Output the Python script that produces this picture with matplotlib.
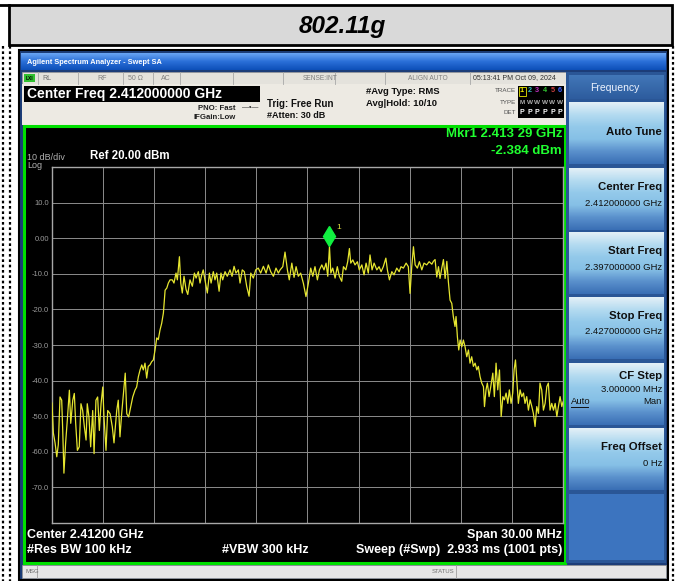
import numpy as np
import matplotlib
matplotlib.use('Agg')
import matplotlib.pyplot as plt
from matplotlib.patches import Rectangle
from matplotlib.colors import LinearSegmentedColormap
import matplotlib.transforms as mtransforms

plt.rcParams['font.family'] = ['Liberation Sans', 'DejaVu Sans']

# ---------------- data ----------------
start_mhz = 2397.0
stop_mhz = 2427.0
freq_offset_mhz = [
    0.00, 0.08, 0.18, 0.28, 0.37, 0.47, 0.57, 0.63, 0.70, 0.80, 0.90, 1.02, 1.10, 1.22, 1.31,
    1.39, 1.49, 1.60, 1.70, 1.80, 1.90, 2.00, 2.07, 2.17, 2.27, 2.39, 2.47, 2.58, 2.68, 2.78,
    2.88, 2.98, 3.05, 3.17, 3.27, 3.41, 3.54, 3.64, 3.80, 3.89, 3.99, 4.09, 4.23, 4.30, 4.39,
    4.50, 4.62, 4.74, 4.87, 4.97, 5.07, 5.17, 5.27, 5.36, 5.46, 5.56, 5.65, 5.75, 5.85, 5.95,
    6.05, 6.15, 6.24, 6.34, 6.44, 6.54, 6.64, 6.74, 6.83, 6.93, 7.06, 7.16, 7.28, 7.36, 7.48,
    7.56, 7.65, 7.75, 7.87, 7.97, 8.10, 8.24, 8.36, 8.46, 8.59, 8.69, 8.79, 8.88, 8.98, 9.12,
    9.24, 9.34, 9.47, 9.57, 9.67, 9.81, 9.92, 10.02, 10.16, 10.29, 10.45, 10.57, 10.69, 10.80,
    10.94, 11.04, 11.17, 11.29, 11.43, 11.57, 11.67, 11.82, 11.96, 12.11, 12.25, 12.41, 12.57,
    12.70, 12.84, 13.00, 13.15, 13.29, 13.39, 13.55, 13.68, 13.82, 13.93, 14.08, 14.21, 14.33,
    14.46, 14.60, 14.76, 14.91, 15.05, 15.19, 15.31, 15.44, 15.58, 15.70, 15.84, 15.97, 16.09,
    16.19, 16.29, 16.37, 16.48, 16.62, 16.75, 16.87, 17.01, 17.11, 17.25, 17.36, 17.46, 17.54,
    17.66, 17.79, 17.93, 18.04, 18.19, 18.32, 18.44, 18.57, 18.67, 18.79, 18.91, 19.07, 19.20,
    19.32, 19.45, 19.60, 19.69, 19.81, 19.95, 20.08, 20.24, 20.38, 20.49, 20.63, 20.79, 20.92,
    21.02, 21.12, 21.22, 21.32, 21.45, 21.57, 21.71, 21.84, 22.00, 22.14, 22.30, 22.39, 22.49,
    22.59, 22.69, 22.78, 22.88, 22.98, 23.08, 23.18, 23.27, 23.37, 23.47, 23.56, 23.66, 23.72,
    23.80, 23.88, 23.96, 24.06, 24.15, 24.25, 24.35, 24.45, 24.54, 24.64, 24.74, 24.84, 24.94,
    25.03, 25.13, 25.23, 25.33, 25.39, 25.48, 25.56, 25.66, 25.76, 25.88, 25.97, 26.07, 26.17,
    26.27, 26.37, 26.47, 26.56, 26.66, 26.76, 26.85, 26.95, 27.05, 27.13, 27.21, 27.29, 27.38,
    27.48, 27.58, 27.68, 27.77, 27.87, 27.97, 28.07, 28.17, 28.26, 28.36, 28.46, 28.56, 28.65,
    28.75, 28.85, 28.95, 29.05, 29.14, 29.24, 29.34, 29.44, 29.54, 29.64, 29.73, 29.83, 29.93,
    30.00,
]
level_dbm = [
    -46.3, -54.7, -57.5, -61.4, -58.0, -44.6, -45.5, -54.0, -66.0, -57.5, -51.0, -42.7, -52.0, -45.5, -43.6,
    -52.0, -59.6, -58.6, -46.5, -48.4, -53.0, -56.7, -46.5, -50.2, -58.6, -48.4, -60.5, -45.5, -44.6, -54.0,
    -46.5, -41.8, -50.0, -59.6, -48.4, -49.3, -53.0, -57.5, -48.4, -45.5, -55.8, -49.3, -41.8, -37.9, -49.3,
    -50.2, -47.4, -44.6, -42.7, -41.8, -38.9, -37.0, -35.6, -37.0, -35.1, -39.3, -36.0, -35.6, -34.7, -34.2,
    -31.4, -28.0, -28.5, -25.8, -23.9, -21.0, -14.6, -14.0, -12.6, -11.7, -11.7, -12.6, -9.8, -11.7, -5.2,
    -12.6, -15.4, -10.7, -14.4, -15.8, -11.7, -13.5, -9.8, -11.2, -9.4, -12.6, -10.3, -8.9, -11.7, -15.4,
    -9.8, -12.6, -9.4, -11.7, -9.8, -14.9, -9.8, -11.7, -9.4, -10.7, -8.9, -10.7, -7.9, -9.8,
    -8.9, -12.6, -8.9, -9.4, -13.5, -16.3, -9.8, -11.2, -8.9, -8.4, -9.8, -7.9, -9.8,
    -7.5, -9.4, -10.7, -8.4, -9.8, -8.9, -8.0, -3.9, -8.9, -11.7, -7.0, -11.0, -8.0,
    -10.7, -9.8, -12.7, -16.4, -12.7, -8.4, -10.7, -8.0, -11.7, -8.9, -7.5, -8.9, -7.0,
    -10.7, -2.384, -9.8, -8.4, -11.2, -8.0, -10.7, -12.1, -8.0, -8.9, -6.6, -2.9, -7.0,
    -6.1, -7.5, -6.6, -8.9, -7.5, -10.3, -7.0, -9.8, -4.7, -8.9, -7.0, -8.9, -8.0,
    -9.4, -8.0, -5.6, -8.9, -11.7, -9.4, -10.3, -8.4, -9.4, -8.0, -8.4, -7.0, -8.0,
    -15.5, -8.0, -2.4, -7.5, -8.4, -6.6, -8.9, -7.0, -7.5, -6.6, -7.3, -6.5, -6.0,
    -10.9, -8.0, -11.3, -8.5, -6.0, -11.3, -6.5, -12.2, -17.4, -18.3, -22.0, -24.8, -22.0,
    -27.7, -31.4, -28.6, -30.5, -28.6, -30.5, -33.3, -31.4, -35.1, -33.3, -36.0, -35.1, -37.0,
    -36.0, -38.9, -40.7, -41.7, -47.3, -42.6, -40.7, -44.5, -41.7, -37.9, -44.5, -35.1, -42.6,
    -37.0, -50.1, -44.5, -45.4, -43.5, -46.4, -42.6, -46.4, -43.5, -37.0, -34.2, -39.8, -46.4,
    -42.6, -44.5, -43.5, -46.4, -44.5, -48.3, -45.4, -47.3, -49.2, -52.9, -47.3, -49.2, -40.7,
    -42.6, -48.3, -46.4, -41.7, -40.7, -48.3, -46.4, -48.3, -46.4, -50.1, -47.3, -44.5, -47.3,
    -46.0,
]
y_ticks = [20, 10, 0, -10, -20, -30, -40, -50, -60, -70, -80]
y_tick_labels = ['', '10.0', '0.00', '-10.0', '-20.0', '-30.0', '-40.0', '-50.0', '-60.0', '-70.0', '']
marker_freq_mhz = 2413.29
marker_level_dbm = -2.384

softkeys = [
    ('Auto Tune', ''),
    ('Center Freq', '2.412000000 GHz'),
    ('Start Freq', '2.397000000 GHz'),
    ('Stop Freq', '2.427000000 GHz'),
    ('CF Step', '3.000000 MHz'),
    ('Freq Offset', '0 Hz'),
]

# ---------------- figure ----------------
W, H = 683, 581
fig = plt.figure(figsize=(W / 100, H / 100), dpi=100)
bg = fig.add_axes([0, 0, 1, 1])
bg.axis('off')


def rect(x0, y0, x1, y1, fc, ec='none', lw=0, z=1, **kw):
    bg.add_patch(Rectangle((x0, y0), x1 - x0, y1 - y0, facecolor=fc, edgecolor=ec,
                           linewidth=lw, zorder=z, **kw))


def grad(x0, y0, x1, y1, colors, z=1):
    cmap = LinearSegmentedColormap.from_list('g', colors)
    arr = np.linspace(0, 1, 120)[:, None]
    bg.imshow(arr, extent=(x0, x1, y1, y0), cmap=cmap, aspect='auto', zorder=z,
              interpolation='bilinear')


def txt(x, y, s, size, color='black', weight='normal', ha='left', style='normal', z=6, **kw):
    bg.text(x, y, s, fontsize=size, color=color, fontweight=weight, ha=ha, va='center',
            fontstyle=style, zorder=z, **kw)


rect(0, 0, W, H, 'white', z=0)

# title cell
rect(9, 5, 672, 45, '#d9d9d9', ec='black', lw=2, z=1)
bg.plot([0, 9], [5, 5], color='black', lw=2, zorder=2)
txt(342, 26, '802.11g', 17.5, weight='bold', style='italic', ha='center')
for xd in (3, 10, 673):
    bg.plot([xd, xd], [46, 581], color='black', lw=1.6, ls=(0, (1.2, 1.2)), zorder=2)

# screen frame
rect(19, 50, 668, 580, '#1c3d78', ec='black', lw=1.5, z=1)
grad(21, 53, 666, 70, ['#6aa6f4', '#2a6fd8', '#0d4fb8'], z=2)
txt(27, 62, 'Agilent Spectrum Analyzer - Swept SA', 5.3, color='white', weight='bold')

# status row
rect(22, 72, 566, 84, '#e4e2dc', ec='#9a9a9a', lw=0.5, z=2)
rect(24, 74, 35, 82, '#30c030', z=3)
txt(25.5, 78, 'LXI', 3.5, color='black', weight='bold')
for xs in (38, 78, 123, 153, 180, 233, 283, 335, 385, 470):
    bg.plot([xs, xs], [72, 84], color='#a8a8a8', lw=0.6, zorder=3)
txt(42, 78, 'RL', 5, color='#707070')
txt(97, 78, 'RF', 5, color='#808080')
txt(128, 78, '50 \u03a9', 5, color='#808080')
txt(161, 78, 'AC', 5, color='#808080')
txt(303, 78, 'SENSE:INT', 4.8, color='#808080')
txt(408, 78, 'ALIGN AUTO', 4.8, color='#808080')
txt(473, 78, '05:13:41 PM Oct 09, 2024', 5, color='#303030')

# info area
rect(22, 84, 566, 125, '#edeae3', z=2)
rect(24, 86, 260, 102, 'black', z=3)
txt(27, 94, 'Center Freq 2.412000000 GHz', 10, 'white', 'bold')
txt(236, 108, 'PNO: Fast', 5.6, '#202020', 'bold', ha='right')
txt(236, 117.5, 'IFGain:Low', 5.6, '#202020', 'bold', ha='right')
txt(242, 108, '\u2014\u2022\u2014', 5, '#303030')
txt(267, 104, 'Trig: Free Run', 7, '#101010', 'bold')
txt(267, 116, '#Atten: 30 dB', 6.5, '#101010', 'bold')
txt(366, 92, '#Avg Type: RMS', 6.8, '#101010', 'bold')
txt(366, 103, 'Avg|Hold: 10/10', 6.8, '#101010', 'bold')
txt(516, 91, 'TRACE', 4.5, '#505050', ha='right')
txt(516, 102, 'TYPE', 4.5, '#505050', ha='right')
txt(516, 113, 'DET', 4.5, '#505050', ha='right')
rect(518, 86, 564, 118, 'black', z=3)
trace_cols = ['#e8e800', '#30c0c0', '#c030c0', '#30c030', '#d04040', '#4060ff']
for i, c in enumerate(trace_cols):
    xc = 522 + i * 7.6
    txt(xc, 91, str(i + 1), 5.2, c, 'bold', ha='center')
    txt(xc, 102, 'M' if i == 0 else 'W', 4.6, '#b0b0b0', 'bold', ha='center')
    txt(xc, 113, 'P', 5, 'white', 'bold', ha='center')
bg.add_patch(Rectangle((518.5, 86.5), 7, 9, facecolor='none', edgecolor='#e8e800', lw=0.6, zorder=4))

# plot region frame
rect(24, 126, 565, 563, 'black', ec='#00e000', lw=2.2, z=2)
txt(27, 157, '10 dB/div', 6.5, '#b0b0b0')
txt(27, 165, 'Log', 6.5, '#b0b0b0')
txt(90, 156, 'Ref 20.00 dBm', 8.3, 'white', 'bold')
txt(562, 134, 'Mkr1 2.413 29 GHz', 9.5, '#20ff30', 'bold', ha='right')
txt(562, 151, '-2.384 dBm', 9.5, '#20ff30', 'bold', ha='right')
txt(27, 535, 'Center 2.41200 GHz', 9, 'white', 'bold')
txt(27, 550, '#Res BW 100 kHz', 9, 'white', 'bold')
txt(222, 550, '#VBW 300 kHz', 9, 'white', 'bold')
txt(562, 535, 'Span 30.00 MHz', 9, 'white', 'bold', ha='right')
txt(562, 550, 'Sweep (#Swp)  2.933 ms (1001 pts)', 9, 'white', 'bold', ha='right')

# message bar
rect(22, 565, 666, 578, '#e6e6e6', ec='#909090', lw=0.5, z=2)
bg.plot([37, 37], [565, 578], color='#a0a0a0', lw=0.6, zorder=3)
bg.plot([456, 456], [565, 578], color='#a0a0a0', lw=0.6, zorder=3)
txt(25, 571.5, 'MSG', 4.3, '#707070')
txt(432, 571.5, 'STATUS', 4.3, '#707070')

# softkey panel
rect(566, 72, 666, 563, '#2a5696', z=2)
grad(569, 75, 664, 99, ['#4277b8', '#2d5c9e'], z=3)
txt(615, 88, 'Frequency', 7.5, '#eef4ff', ha='center')
key_cols = ['#e4f0f7', '#b4dbf0', '#93c9ea', '#86c0e6', '#5a90cc', '#3a6fb5']
key_tops = [102, 168, 232, 297, 363, 428]
for (label, value), y0 in zip(softkeys, key_tops):
    grad(569, y0, 664, y0 + 62, key_cols, z=3)
    if value == '':
        txt(662, y0 + 30, label, 8.2, '#101010', 'bold', ha='right')
    elif label == 'CF Step':
        txt(662, y0 + 13, label, 8.2, '#101010', 'bold', ha='right')
        txt(662, y0 + 26, value, 6.8, '#101010', ha='right')
    else:
        txt(662, y0 + 19, label, 8.2, '#101010', 'bold', ha='right')
        txt(662, y0 + 35, value, 6.8, '#101010', ha='right')
txt(571, 402, 'Auto', 6.8, '#101010')
bg.plot([571, 588], [407, 407], color='#101010', lw=0.7, zorder=6)
txt(662, 402, 'Man', 6.8, '#101010', ha='right')
rect(569, 494, 664, 560, '#3c74bf', z=3)

bg.set_xlim(0, W)
bg.set_ylim(H, 0)

# ---------------- spectrum axes ----------------
ax = fig.add_axes([52 / W, 1 - 523 / H, 511 / W, 356 / H])
ax.set_facecolor('black')
freq_mhz = start_mhz + np.asarray(freq_offset_mhz)
ax.plot(freq_mhz, level_dbm, color='#e6e630', lw=0.9, zorder=3)
ax.set_xlim(start_mhz, stop_mhz)
ax.set_ylim(y_ticks[-1], y_ticks[0])
ax.set_xticks(np.linspace(start_mhz, stop_mhz, 11))
ax.set_xticklabels([])
ax.set_yticks(y_ticks)
ax.set_yticklabels(y_tick_labels, fontsize=5.5, color='#9a9a9a')
ax.tick_params(length=0, pad=2)
ax.grid(True, color='#8c8c8c', lw=0.7, zorder=1)
for s in ax.spines.values():
    s.set_color('#a8a8a8')
    s.set_linewidth(1.0)

shift = ax.transData + mtransforms.ScaledTranslation(0, 0.105, fig.dpi_scale_trans)
ax.plot([marker_freq_mhz], [marker_level_dbm], marker='d', ms=10, color='#10f040',
        mec='#10f040', transform=shift, zorder=5, clip_on=False)
ax.annotate('1', (marker_freq_mhz, marker_level_dbm), xytext=(5, 13.5),
            textcoords='offset points', fontsize=6, color='#e0e040', va='center')

fig.savefig('out.png', dpi=100)
